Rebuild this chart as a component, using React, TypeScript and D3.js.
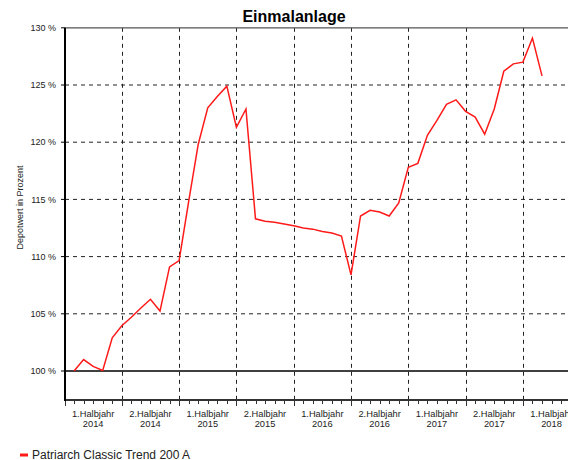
import React from "react";
import * as d3 from "d3";

const title = "Einmalanlage";
const seriesName = "Patriarch Classic Trend 200 A";
const yTitle = "Depotwert in Prozent";
// month index since Jan 2014 (1 = end of Jan 2014)
const months = [1,2,3,4,5,6,7,8,9,10,11,12,13,14,15,16,17,18,19,20,21,22,23,24,25,26,27,28,29,30,31,32,33,34,35,36,37,38,39,40,41,42,43,44,45,46,47,48,49,50];
const values = [100.0,101.0,100.4,100.05,102.9,103.96,104.7,105.5,106.27,105.24,109.1,109.65,114.8,119.8,123.0,124.0,124.9,121.3,122.9,113.3,113.1,113.0,112.85,112.7,112.5,112.4,112.2,112.06,111.8,108.4,113.55,114.05,113.9,113.55,114.7,117.8,118.15,120.6,121.9,123.3,123.7,122.7,122.2,120.7,122.9,126.2,126.85,127.0,129.1,125.8];
const yTicks = [100, 105, 110, 115, 120, 125, 130];
const halfYearLabels = [
  ["1.Halbjahr", "2014"], ["2.Halbjahr", "2014"],
  ["1.Halbjahr", "2015"], ["2.Halbjahr", "2015"],
  ["1.Halbjahr", "2016"], ["2.Halbjahr", "2016"],
  ["1.Halbjahr", "2017"], ["2.Halbjahr", "2017"],
  ["1.Halbjahr", "2018"],
];

const W = 568, H = 460;
const font = "Liberation Sans, Arial, sans-serif";

export default function App() {
  const x = d3.scaleLinear().domain([0, 6]).range([64.5, 121.8]);
  const y = d3.scaleLinear().domain([100, 125]).range([371, 85]);
  const left = 65, top = y(130), bottom = 400;
  const maxMonth = Math.floor(x.invert(W));
  const monthTicks = d3.range(0, maxMonth + 1);
  const halfTicks = monthTicks.filter((m) => m % 6 === 0 && m > 0);
  const line = d3.line<number>().x((_, i) => x(months[i])).y((d) => y(d));

  return (
    <svg width={W} height={H} style={{ position: "absolute", left: 0, top: 0, background: "#fff" }} fontFamily={font}>
      <text x={294} y={22} textAnchor="middle" fontSize={16} fontWeight="bold" fill="#000">{title}</text>
      {/* horizontal grid */}
      {yTicks.filter((t) => t > 100 && t < 130).map((t) => (
        <line key={t} x1={left} x2={W} y1={y(t)} y2={y(t)} stroke="#222" strokeWidth={1} strokeDasharray="4,4" />
      ))}
      {/* vertical grid */}
      {halfTicks.map((m) => (
        <line key={m} x1={Math.round(x(m)) + 0.5} x2={Math.round(x(m)) + 0.5} y1={top} y2={bottom + 4} stroke="#222" strokeWidth={1} strokeDasharray="4,4" />
      ))}
      {/* top border */}
      <line x1={left} x2={W} y1={top} y2={top} stroke="#555" strokeWidth={1.3} />
      {/* 100% baseline */}
      <line x1={left} x2={W} y1={y(100)} y2={y(100)} stroke="#000" strokeWidth={1.3} />
      {/* y ticks and labels */}
      {yTicks.map((t) => (
        <g key={t}>
          <line x1={left - 4} x2={left} y1={y(t)} y2={y(t)} stroke="#000" />
          <text x={56} y={y(t) + 3.2} textAnchor="end" fontSize={9} fill="#222">{t} %</text>
        </g>
      ))}
      {/* bottom axis */}
      <line x1={left - 1} x2={W} y1={bottom} y2={bottom} stroke="#333" strokeWidth={2} />
      {monthTicks.map((m) => (
        <line key={m} x1={Math.round(x(m)) + 0.5} x2={Math.round(x(m)) + 0.5} y1={bottom} y2={bottom + (m % 6 === 0 ? 6 : 4)} stroke="#333" strokeWidth={1} />
      ))}
      {/* left axis */}
      <line x1={left} x2={left} y1={top} y2={bottom + 1} stroke="#000" strokeWidth={2} />
      {/* x labels */}
      {halfYearLabels.map((l, i) => (
        <text key={i} x={x(i * 6 + 3)} textAnchor="middle" fontSize={9.3} fill="#222">
          <tspan x={x(i * 6 + 3)} y={416.5}>{l[0]}</tspan>
          <tspan x={x(i * 6 + 3)} y={427}>{l[1]}</tspan>
        </text>
      ))}
      {/* y title */}
      <text transform="translate(23,207.5) rotate(-90)" textAnchor="middle" fontSize={9} fill="#222">{yTitle}</text>
      {/* series */}
      <path d={line(values) || ""} fill="none" stroke="#ff1a1a" strokeWidth={1.5} strokeLinejoin="miter" />
      {/* legend */}
      <line x1={20} x2={28} y1={455} y2={455} stroke="#ff1a1a" strokeWidth={3} />
      <text x={32} y={458.5} fontSize={12} fill="#222">{seriesName}</text>
    </svg>
  );
}
